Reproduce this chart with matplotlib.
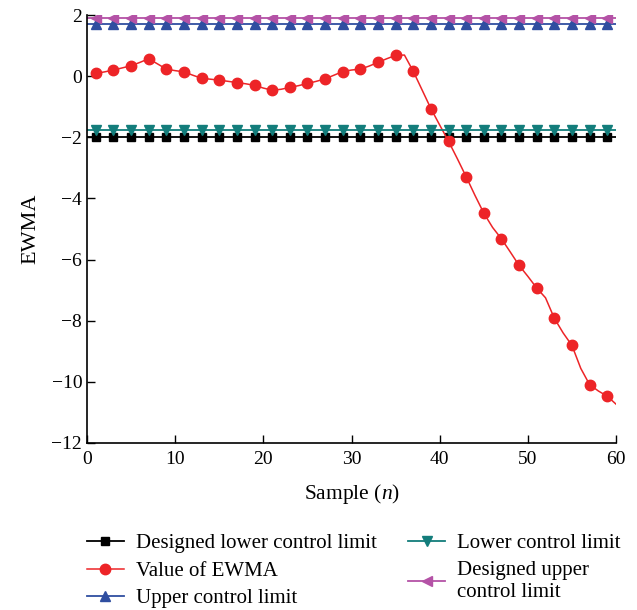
import numpy as np
import matplotlib
matplotlib.use("Agg")
import matplotlib.pyplot as plt

# EWMA value at every sample (markers drawn on odd samples)
samples = np.arange(1, 61)
ewma = [0.09, 0.14, 0.20, 0.27, 0.34, 0.45, 0.57, 0.40, 0.23, 0.18,
        0.14, 0.03, -0.07, -0.10, -0.13, -0.17, -0.21, -0.25, -0.30, -0.39,
        -0.46, -0.43, -0.37, -0.31, -0.24, -0.17, -0.09, 0.03, 0.15, 0.20,
        0.23, 0.33, 0.45, 0.57, 0.68, 0.69, 0.16, -0.45, -1.06, -1.60,
        -2.13, -2.70, -3.29, -3.90, -4.48, -4.95, -5.32, -5.75, -6.19, -6.55,
        -6.93, -7.25, -7.92, -8.40, -8.81, -9.56, -10.09, -10.30, -10.47, -10.73]

# control limits
limit_x = np.arange(0, 61)
designed_lower = -1.98
lower_limit = -1.76
upper_limit = 1.72
designed_upper = 1.90

plt.rcParams['font.family'] = ['Liberation Serif', 'DejaVu Serif']
plt.rcParams['mathtext.fontset'] = 'custom'
plt.rcParams['mathtext.it'] = 'Liberation Serif:italic'
plt.rcParams['mathtext.rm'] = 'Liberation Serif'
plt.rcParams['font.size'] = 14

fig = plt.figure(figsize=(6.37, 6.10), dpi=100)
ax = fig.add_axes([0.1366, 0.2738, 0.8305, 0.7016])

ax.plot(limit_x, np.full(limit_x.shape, designed_lower), color='black', lw=1.3,
        marker='s', ms=5.5, markevery=(1, 2), label='Designed lower control limit')
ax.plot(samples, ewma, color='#ED2427', lw=1.1, marker='o', ms=7.5,
        markevery=(0, 2), label='Value of EWMA')
ax.plot(limit_x, np.full(limit_x.shape, upper_limit), color='#2F4EA0', lw=1.3,
        marker='^', ms=7.5, markevery=(1, 2), label='Upper control limit')
ax.plot(limit_x, np.full(limit_x.shape, lower_limit), color='#137D7B', lw=1.3,
        marker='v', ms=7.5, markevery=(1, 2), label='Lower control limit')
ax.plot(limit_x, np.full(limit_x.shape, designed_upper), color='#B452A6', lw=1.3,
        marker='<', ms=7.5, markevery=(1, 2), label='Designed upper\ncontrol limit')

ax.set_xlim(0, 60)
ax.set_ylim(-12, 2)
ax.set_xticks(range(0, 61, 10))
ax.set_yticks(range(-12, 3, 2))
ax.set_yticklabels([f'\u2212{abs(v)}' if v < 0 else str(v) for v in range(-12, 3, 2)])
for s in ['top', 'right']:
    ax.spines[s].set_visible(False)
for s in ['left', 'bottom']:
    ax.spines[s].set_linewidth(1.2)
ax.tick_params(direction='in', length=6, width=1.0, labelsize=14)
ax.tick_params(axis='x', pad=6)

ax.set_xlabel('Sample ($\\mathit{n}$)', labelpad=10, fontsize=15.5)
ax.set_ylabel('EWMA', labelpad=8, fontsize=16)

fig.legend(loc='upper left', bbox_to_anchor=(0.137, 0.125), ncol=2, frameon=False,
           handlelength=1.75, columnspacing=1.5, labelspacing=0.38, fontsize=15,
           borderaxespad=0, handletextpad=0.6, borderpad=0)

plt.savefig('out.png', dpi=100)
plt.close()
